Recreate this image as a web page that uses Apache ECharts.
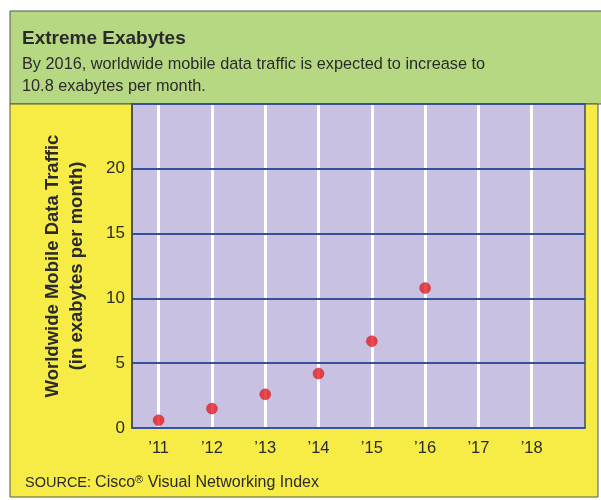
<!DOCTYPE html>
<html>
<head>
<meta charset="utf-8">
<script src="https://cdn.jsdelivr.net/npm/echarts@6/dist/echarts.min.js"></script>
<style>
  html, body { margin: 0; padding: 0; background: #fff; }
  #chart { width: 601px; height: 500px; }
</style>
</head>
<body>
<div id="chart"></div>
<script>
  // data
  var years = [11, 12, 13, 14, 15, 16];
  var traffic = [0.6, 1.5, 2.6, 4.2, 6.7, 10.8];
  // x tick labels ('11 .. '18)
  var tickYears = [11, 12, 13, 14, 15, 16, 17, 18];
  // y tick labels
  var yTicks = [0, 5, 10, 15, 20];

  var font = '"Liberation Sans", Arial, sans-serif';

  var points = [];
  for (var i = 0; i < years.length; i++) {
    points.push([years[i], traffic[i]]);
  }
  var yearLines = [];
  for (var j = 0; j < tickYears.length; j++) {
    yearLines.push({ xAxis: tickYears[j] });
  }

  var myChart = echarts.init(document.getElementById('chart'));
  var option = {
    animation: false,
    textStyle: { fontFamily: font },
    graphic: [
      {
        type: 'rect', z: -10,
        shape: { x: 10, y: 11, width: 600, height: 93 },
        style: { fill: '#b6d883', stroke: '#555', lineWidth: 1 }
      },
      {
        type: 'rect', z: -10,
        shape: { x: 10, y: 104, width: 588, height: 393 },
        style: { fill: '#f7ec45', stroke: '#555', lineWidth: 1 }
      },
      {
        type: 'text', z: 10,
        left: 25, top: 474,
        style: {
          text: '{c|SOURCE: }{a|Cisco}{s|®}{a| Visual Networking Index}',
          rich: {
            c: { fontSize: 14.5, fontFamily: font, fill: '#2a2a2a' },
            a: { fontSize: 16, fontFamily: font, fill: '#2a2a2a' },
            s: { fontSize: 11, fontFamily: font, fill: '#2a2a2a', verticalAlign: 'top', padding: [0, 0, 7, 0] }
          }
        }
      }
    ],
    title: {
      text: 'Extreme Exabytes',
      subtext: 'By 2016, worldwide mobile data traffic is expected to increase to\n10.8 exabytes per month.',
      left: 17,
      top: 24,
      itemGap: 6,
      textStyle: { fontSize: 19, fontWeight: 'bold', color: '#2a2a2a', fontFamily: font },
      subtextStyle: { fontSize: 16.3, color: '#2a2a2a', lineHeight: 22, fontFamily: font }
    },
    grid: {
      left: 132,
      right: 16,
      top: 104,
      bottom: 72,
      show: true,
      backgroundColor: '#c9c1e1',
      borderColor: '#4a4a4a',
      borderWidth: 1.5
    },
    xAxis: {
      type: 'value',
      min: 10.5,
      max: 19,
      interval: 0.5,
      axisLine: { show: true, lineStyle: { color: '#4a4a4a', width: 1.5 } },
      axisTick: { show: false },
      splitLine: { show: false },
      axisLabel: {
        fontSize: 16.5,
        color: '#2a2a2a',
        margin: 12,
        formatter: function (v) {
          return tickYears.indexOf(v) >= 0 ? '\u2019' + v : '';
        }
      }
    },
    yAxis: {
      type: 'value',
      min: 0,
      max: 25,
      interval: 5,
      z: 2,
      name: 'Worldwide Mobile Data Traffic\n(in exabytes per month)',
      nameLocation: 'middle',
      nameGap: 43,
      nameTextStyle: { fontSize: 18.5, fontWeight: 'bold', color: '#2a2a2a', lineHeight: 24, fontFamily: font },
      axisLine: { show: true, lineStyle: { color: '#4a4a4a', width: 1.5 } },
      axisTick: { show: false },
      splitLine: { show: true, lineStyle: { color: '#34529c', width: 1.8 } },
      axisLabel: {
        fontSize: 17,
        color: '#2a2a2a',
        margin: 7,
        formatter: function (v) {
          return yTicks.indexOf(v) >= 0 ? String(v) : '';
        }
      }
    },
    series: [
      {
        type: 'scatter',
        z: 3,
        symbolSize: 11,
        itemStyle: { color: '#e31e24', borderColor: '#c01818', borderWidth: 0.5 },
        data: points,
        markLine: {
          silent: true,
          z: 1,
          symbol: 'none',
          label: { show: false },
          lineStyle: { color: '#ffffff', width: 3, type: 'solid' },
          data: yearLines
        }
      }
    ]
  };
  myChart.setOption(option, true);
</script>
</body>
</html>
